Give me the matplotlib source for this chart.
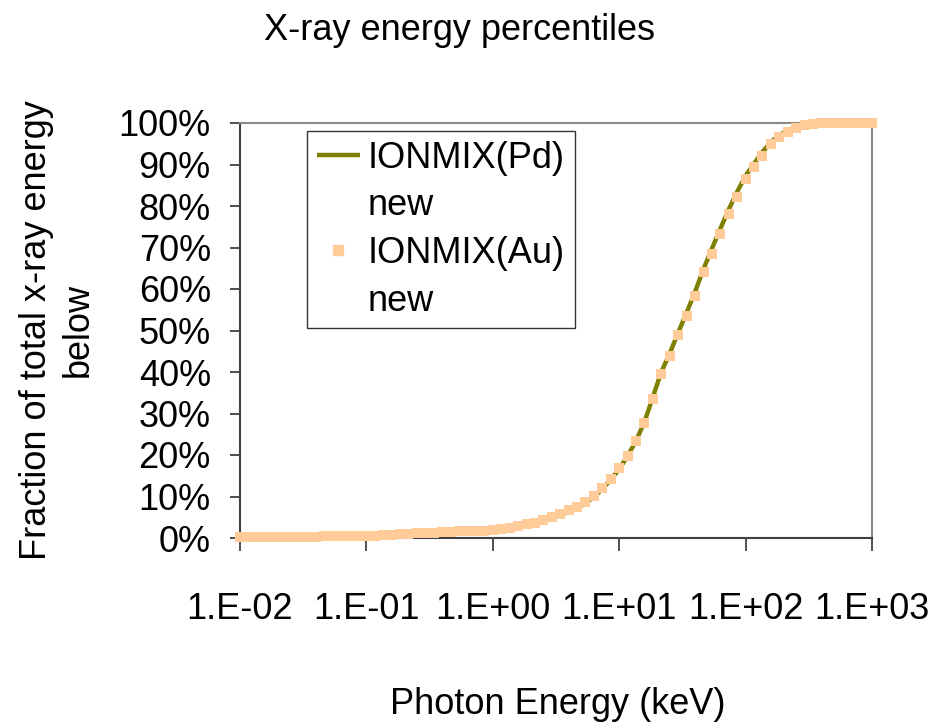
import numpy as np
import matplotlib
matplotlib.use('Agg')
import matplotlib.pyplot as plt
from matplotlib.lines import Line2D
from matplotlib.ticker import PercentFormatter, NullLocator

# photon energy grid (log10 keV), 15 points per decade
log_energy = [-2.0, -1.933, -1.867, -1.8, -1.733, -1.667, -1.6, -1.533, -1.467, -1.4,
              -1.333, -1.267, -1.2, -1.133, -1.067, -1.0, -0.933, -0.867, -0.8, -0.733,
              -0.667, -0.6, -0.533, -0.467, -0.4, -0.333, -0.267, -0.2, -0.133, -0.067,
              0.0, 0.067, 0.133, 0.2, 0.267, 0.333, 0.4, 0.467, 0.533, 0.6,
              0.667, 0.733, 0.8, 0.867, 0.933, 1.0, 1.067, 1.133, 1.2, 1.267,
              1.333, 1.4, 1.467, 1.533, 1.6, 1.667, 1.733, 1.8, 1.867, 1.933,
              2.0, 2.067, 2.133, 2.2, 2.267, 2.333, 2.4, 2.467, 2.533, 2.6,
              2.667, 2.733, 2.8, 2.867, 2.933, 3.0]

# cumulative fraction of x-ray energy below (%)
frac_pd = [0.2, 0.2, 0.2, 0.2, 0.2, 0.2, 0.2, 0.2, 0.2, 0.2,
           0.3, 0.3, 0.3, 0.3, 0.3, 0.4, 0.5, 0.6, 0.7, 0.8,
           0.9, 1.0, 1.1, 1.2, 1.3, 1.4, 1.5, 1.6, 1.7, 1.7,
           1.8, 2.1, 2.4, 2.7, 3.1, 3.5, 4.1, 4.8, 5.5, 6.3,
           7.1, 8.4, 9.9, 11.8, 14.1, 16.6, 19.8, 23.4, 28.0, 34.0,
           40.0, 44.5, 49.5, 54.3, 59.3, 64.8, 69.7, 74.5, 79.2, 83.4,
           87.3, 90.2, 93.0, 95.4, 97.1, 98.2, 99.0, 99.5, 99.8, 99.9,
           100.0, 100.0, 100.0, 100.0, 100.0, 100.0]

frac_au = [0.3, 0.3, 0.3, 0.3, 0.3, 0.3, 0.3, 0.3, 0.3, 0.3,
           0.4, 0.4, 0.4, 0.4, 0.4, 0.5, 0.6, 0.7, 0.8, 0.9,
           1.0, 1.1, 1.2, 1.3, 1.4, 1.5, 1.6, 1.7, 1.8, 1.8,
           1.9, 2.2, 2.5, 2.85, 3.3, 3.7, 4.3, 5.1, 5.9, 6.7,
           7.4, 8.7, 10.2, 12.1, 14.3, 16.8, 19.8, 23.3, 27.6, 33.5,
           39.6, 43.9, 48.9, 53.6, 58.4, 64.0, 68.5, 73.3, 78.0, 82.1,
           86.4, 89.3, 92.1, 94.9, 96.7, 97.9, 98.8, 99.4, 99.7, 99.9,
           100.0, 100.0, 100.0, 100.0, 100.0, 100.0]

xtick_vals = [1e-2, 1e-1, 1e0, 1e1, 1e2, 1e3]
xtick_labels = ['1.E-02', '1.E-01', '1.E+00', '1.E+01', '1.E+02', '1.E+03']

plt.rcParams['font.family'] = ['Liberation Sans', 'DejaVu Sans']
FS = 26

energy = 10 ** np.array(log_energy)

W, H = 931, 722
fig = plt.figure(figsize=(W / 100, H / 100), dpi=100)
ax = fig.add_axes([240 / W, 1 - 538 / H, (872 - 240) / W, (538 - 123) / H])

ax.plot(energy, np.array(frac_pd) / 100, color='#808000', lw=3.2,
        solid_capstyle='butt', zorder=3, clip_on=False)
ax.plot(energy, np.array(frac_au) / 100, ls='none', marker='s', ms=7.2,
        mfc='#FFCC99', mec='#FFCC99', mew=0, zorder=4, clip_on=False)

ax.set_xscale('log')
ax.set_xlim(1e-2, 1e3)
ax.set_ylim(0, 1)
ax.set_xticks(xtick_vals)
ax.set_xticklabels(xtick_labels)
ax.xaxis.set_minor_locator(NullLocator())
ax.set_yticks(np.arange(0, 1.01, 0.1))
ax.yaxis.set_major_formatter(PercentFormatter(1.0, decimals=0))

for side in ['left', 'bottom']:
    ax.spines[side].set_color('#404040')
    ax.spines[side].set_linewidth(1.5)
for side in ['top', 'right']:
    ax.spines[side].set_color('#8a8a8a')
    ax.spines[side].set_linewidth(1.5)

ax.tick_params(axis='x', direction='out', length=9, width=1.3, color='#404040',
               labelsize=FS, pad=30)
ax.tick_params(axis='y', direction='out', length=7, width=1.3, color='#404040',
               labelsize=FS, pad=14)

# legend: each label wraps onto a second line in the original
blank = Line2D([], [], ls='none')
handles = [Line2D([], [], color='#808000', lw=3.2, solid_capstyle='butt'), blank,
           Line2D([], [], ls='none', marker='s', ms=6.5, mfc='#FFCC99', mec='#FFCC99'),
           blank]
labels = ['IONMIX(Pd)', 'new', 'IONMIX(Au)', 'new']
leg = ax.legend(handles, labels, loc='upper left',
                bbox_to_anchor=(307 / W, 1 - 131 / H), bbox_transform=fig.transFigure,
                fontsize=FS, frameon=True, fancybox=False, borderaxespad=0,
                borderpad=0.27, handlelength=1.2, handletextpad=0.22,
                labelspacing=0.35)
leg.get_frame().set_edgecolor('black')
leg.get_frame().set_linewidth(1.0)

fig.text(460 / W, 1 - 30 / H, 'X-ray energy percentiles', fontsize=FS,
         ha='center', va='center')
fig.text(558 / W, 1 - 704 / H, 'Photon Energy (keV)', fontsize=FS,
         ha='center', va='center')
fig.text(57 / W, 1 - 330 / H, 'Fraction of total x-ray energy\nbelow', fontsize=FS,
         ha='center', va='center', rotation=90, multialignment='center',
         linespacing=1.25)

fig.savefig('out.png', dpi=100)
